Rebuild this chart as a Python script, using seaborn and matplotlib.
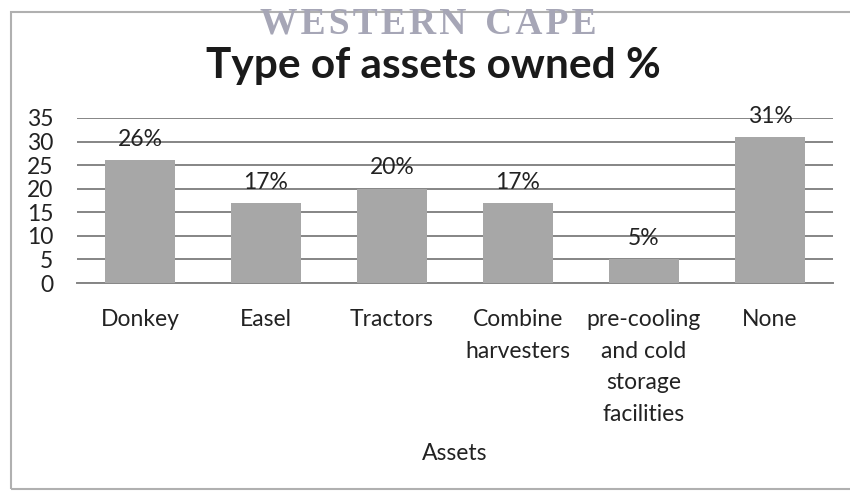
import matplotlib
matplotlib.use("Agg")
import matplotlib.pyplot as plt
import seaborn as sns
import pandas as pd
from matplotlib.patches import Rectangle

categories = ["Donkey", "Easel", "Tractors", "Combine\nharvesters",
              "pre-cooling\nand cold\nstorage\nfacilities", "None"]
values = [26, 17, 20, 17, 5, 31]
y_ticks = [0, 5, 10, 15, 20, 25, 30, 35]

sns.set_theme(style="white")
plt.rcParams["font.family"] = ["Lato", "DejaVu Sans"]

df = pd.DataFrame({"asset": categories, "pct": values})

fig = plt.figure(figsize=(8.5, 4.92), dpi=100)
ax = fig.add_axes([77 / 850, 1 - 283 / 492, (833 - 77) / 850, (283 - 118) / 492])

sns.barplot(data=df, x="asset", y="pct", color="#a7a7a7", saturation=1,
            width=0.56, ax=ax, zorder=3, edgecolor="none")

ax.set_ylim(0, 35)
ax.set_yticks(y_ticks)
ax.set_xlim(-0.5, len(categories) - 0.5)
ax.yaxis.grid(True, color="#858585", linewidth=1.4, zorder=0)
ax.set_axisbelow(True)
for side in ["top", "right", "left"]:
    ax.spines[side].set_visible(False)
ax.spines["bottom"].set_color("#858585")
ax.spines["bottom"].set_linewidth(1.4)
ax.tick_params(axis="both", length=0, labelsize=16.5, colors="#222222")
ax.tick_params(axis="y", pad=17)
ax.tick_params(axis="x", pad=19)
for lbl in ax.get_yticklabels():
    lbl.set_horizontalalignment("right")
for lbl in ax.get_xticklabels():
    lbl.set_linespacing(1.62)
    lbl.set_verticalalignment("top")

ax.set_ylabel("")
ax.set_xlabel("Assets", fontsize=16.5, color="#222222", labelpad=13)

for i, v in enumerate(values):
    ax.annotate(f"{v}%", (i, v), xytext=(0, 15), textcoords="offset points",
                ha="center", va="center", fontsize=16.5, color="#222222")

fig.text(433 / 850, 1 - 78 / 492, "Type of assets owned %", ha="center",
         va="baseline", fontsize=30.5, fontweight="bold", color="#1a1a1a")

# outer chart frame
fig.patches.append(Rectangle((11 / 850, 1 - 489 / 492), (860 - 11) / 850,
                             (489 - 12) / 492, transform=fig.transFigure,
                             fill=False, edgecolor="#b0b0b0", linewidth=1.5,
                             zorder=0))

hair = "\u200a"
mark = hair.join("WESTERN") + "  " + hair.join("CAPE")
fig.text(428 / 850, 1 - 34 / 492, mark, ha="center", va="baseline",
         fontsize=27, color="#a6a6b6",
         family=["Liberation Serif", "DejaVu Serif"],
         fontweight="bold", zorder=5)

fig.savefig("out.png", dpi=100)
